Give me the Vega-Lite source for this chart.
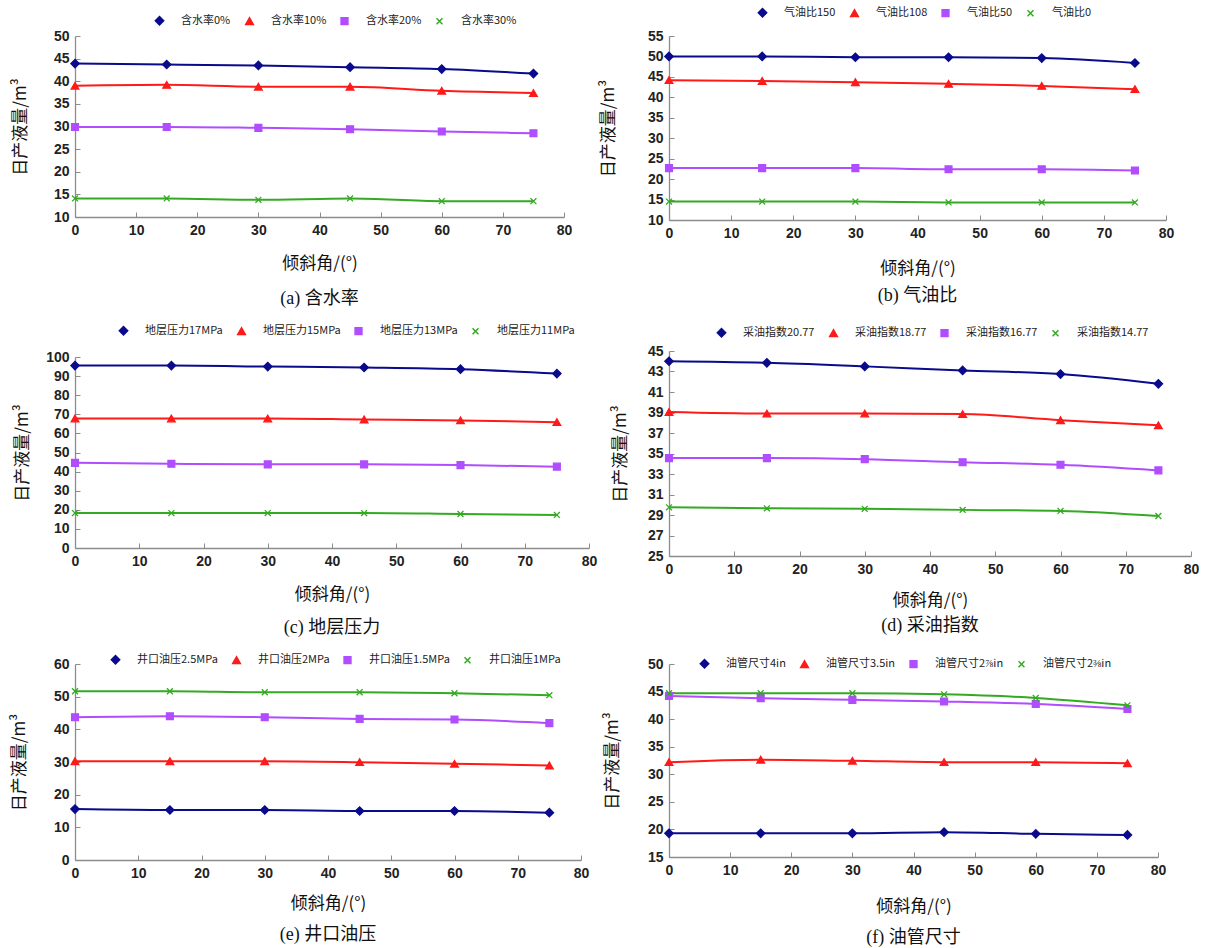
{
  "$schema": "https://vega.github.io/schema/vega-lite/v6.json",
  "background": "white",
  "padding": {"left": 10, "top": 7, "right": 0, "bottom": 0},
  "spacing": 2,
  "datasets": {
    "a": [
      {"s": "含水率0%", "x": 0, "y": 43.9}, {"s": "含水率0%", "x": 15, "y": 43.7}, {"s": "含水率0%", "x": 30, "y": 43.5}, {"s": "含水率0%", "x": 45, "y": 43.1}, {"s": "含水率0%", "x": 60, "y": 42.7}, {"s": "含水率0%", "x": 75, "y": 41.7},
      {"s": "含水率10%", "x": 0, "y": 39.0}, {"s": "含水率10%", "x": 15, "y": 39.2}, {"s": "含水率10%", "x": 30, "y": 38.8}, {"s": "含水率10%", "x": 45, "y": 38.8}, {"s": "含水率10%", "x": 60, "y": 37.9}, {"s": "含水率10%", "x": 75, "y": 37.4},
      {"s": "含水率20%", "x": 0, "y": 29.9}, {"s": "含水率20%", "x": 15, "y": 29.9}, {"s": "含水率20%", "x": 30, "y": 29.7}, {"s": "含水率20%", "x": 45, "y": 29.4}, {"s": "含水率20%", "x": 60, "y": 28.9}, {"s": "含水率20%", "x": 75, "y": 28.5},
      {"s": "含水率30%", "x": 0, "y": 14.1}, {"s": "含水率30%", "x": 15, "y": 14.1}, {"s": "含水率30%", "x": 30, "y": 13.8}, {"s": "含水率30%", "x": 45, "y": 14.1}, {"s": "含水率30%", "x": 60, "y": 13.5}, {"s": "含水率30%", "x": 75, "y": 13.5}
    ],
    "b": [
      {"s": "气油比150", "x": 0, "y": 50.0}, {"s": "气油比150", "x": 15, "y": 50.0}, {"s": "气油比150", "x": 30, "y": 49.8}, {"s": "气油比150", "x": 45, "y": 49.8}, {"s": "气油比150", "x": 60, "y": 49.6}, {"s": "气油比150", "x": 75, "y": 48.4},
      {"s": "气油比108", "x": 0, "y": 44.2}, {"s": "气油比108", "x": 15, "y": 44.0}, {"s": "气油比108", "x": 30, "y": 43.7}, {"s": "气油比108", "x": 45, "y": 43.3}, {"s": "气油比108", "x": 60, "y": 42.8}, {"s": "气油比108", "x": 75, "y": 42.0},
      {"s": "气油比50", "x": 0, "y": 22.7}, {"s": "气油比50", "x": 15, "y": 22.7}, {"s": "气油比50", "x": 30, "y": 22.7}, {"s": "气油比50", "x": 45, "y": 22.4}, {"s": "气油比50", "x": 60, "y": 22.4}, {"s": "气油比50", "x": 75, "y": 22.1},
      {"s": "气油比0", "x": 0, "y": 14.5}, {"s": "气油比0", "x": 15, "y": 14.5}, {"s": "气油比0", "x": 30, "y": 14.5}, {"s": "气油比0", "x": 45, "y": 14.3}, {"s": "气油比0", "x": 60, "y": 14.3}, {"s": "气油比0", "x": 75, "y": 14.3}
    ],
    "c": [
      {"s": "地层压力17MPa", "x": 0, "y": 95.5}, {"s": "地层压力17MPa", "x": 15, "y": 95.5}, {"s": "地层压力17MPa", "x": 30, "y": 95.0}, {"s": "地层压力17MPa", "x": 45, "y": 94.5}, {"s": "地层压力17MPa", "x": 60, "y": 93.6}, {"s": "地层压力17MPa", "x": 75, "y": 91.3},
      {"s": "地层压力15MPa", "x": 0, "y": 67.8}, {"s": "地层压力15MPa", "x": 15, "y": 67.8}, {"s": "地层压力15MPa", "x": 30, "y": 67.8}, {"s": "地层压力15MPa", "x": 45, "y": 67.3}, {"s": "地层压力15MPa", "x": 60, "y": 66.8}, {"s": "地层压力15MPa", "x": 75, "y": 65.9},
      {"s": "地层压力13MPa", "x": 0, "y": 44.6}, {"s": "地层压力13MPa", "x": 15, "y": 44.1}, {"s": "地层压力13MPa", "x": 30, "y": 43.8}, {"s": "地层压力13MPa", "x": 45, "y": 43.8}, {"s": "地层压力13MPa", "x": 60, "y": 43.4}, {"s": "地层压力13MPa", "x": 75, "y": 42.6},
      {"s": "地层压力11MPa", "x": 0, "y": 18.3}, {"s": "地层压力11MPa", "x": 15, "y": 18.3}, {"s": "地层压力11MPa", "x": 30, "y": 18.3}, {"s": "地层压力11MPa", "x": 45, "y": 18.3}, {"s": "地层压力11MPa", "x": 60, "y": 17.8}, {"s": "地层压力11MPa", "x": 75, "y": 17.3}
    ],
    "d": [
      {"s": "采油指数20.77", "x": 0, "y": 44.0}, {"s": "采油指数20.77", "x": 15, "y": 43.85}, {"s": "采油指数20.77", "x": 30, "y": 43.5}, {"s": "采油指数20.77", "x": 45, "y": 43.1}, {"s": "采油指数20.77", "x": 60, "y": 42.75}, {"s": "采油指数20.77", "x": 75, "y": 41.8},
      {"s": "采油指数18.77", "x": 0, "y": 39.05}, {"s": "采油指数18.77", "x": 15, "y": 38.9}, {"s": "采油指数18.77", "x": 30, "y": 38.9}, {"s": "采油指数18.77", "x": 45, "y": 38.85}, {"s": "采油指数18.77", "x": 60, "y": 38.25}, {"s": "采油指数18.77", "x": 75, "y": 37.75},
      {"s": "采油指数16.77", "x": 0, "y": 34.55}, {"s": "采油指数16.77", "x": 15, "y": 34.55}, {"s": "采油指数16.77", "x": 30, "y": 34.45}, {"s": "采油指数16.77", "x": 45, "y": 34.15}, {"s": "采油指数16.77", "x": 60, "y": 33.9}, {"s": "采油指数16.77", "x": 75, "y": 33.35},
      {"s": "采油指数14.77", "x": 0, "y": 29.75}, {"s": "采油指数14.77", "x": 15, "y": 29.65}, {"s": "采油指数14.77", "x": 30, "y": 29.6}, {"s": "采油指数14.77", "x": 45, "y": 29.5}, {"s": "采油指数14.77", "x": 60, "y": 29.4}, {"s": "采油指数14.77", "x": 75, "y": 28.9}
    ],
    "e": [
      {"s": "井口油压2.5MPa", "x": 0, "y": 15.6}, {"s": "井口油压2.5MPa", "x": 15, "y": 15.3}, {"s": "井口油压2.5MPa", "x": 30, "y": 15.3}, {"s": "井口油压2.5MPa", "x": 45, "y": 15.0}, {"s": "井口油压2.5MPa", "x": 60, "y": 15.0}, {"s": "井口油压2.5MPa", "x": 75, "y": 14.5},
      {"s": "井口油压2MPa", "x": 0, "y": 30.25}, {"s": "井口油压2MPa", "x": 15, "y": 30.25}, {"s": "井口油压2MPa", "x": 30, "y": 30.25}, {"s": "井口油压2MPa", "x": 45, "y": 29.95}, {"s": "井口油压2MPa", "x": 60, "y": 29.45}, {"s": "井口油压2MPa", "x": 75, "y": 28.95},
      {"s": "井口油压1.5MPa", "x": 0, "y": 43.7}, {"s": "井口油压1.5MPa", "x": 15, "y": 44.0}, {"s": "井口油压1.5MPa", "x": 30, "y": 43.7}, {"s": "井口油压1.5MPa", "x": 45, "y": 43.2}, {"s": "井口油压1.5MPa", "x": 60, "y": 43.0}, {"s": "井口油压1.5MPa", "x": 75, "y": 41.9},
      {"s": "井口油压1MPa", "x": 0, "y": 51.65}, {"s": "井口油压1MPa", "x": 15, "y": 51.65}, {"s": "井口油压1MPa", "x": 30, "y": 51.35}, {"s": "井口油压1MPa", "x": 45, "y": 51.35}, {"s": "井口油压1MPa", "x": 60, "y": 51.05}, {"s": "井口油压1MPa", "x": 75, "y": 50.45}
    ],
    "f": [
      {"s": "油管尺寸4in", "x": 0, "y": 19.3}, {"s": "油管尺寸4in", "x": 15, "y": 19.3}, {"s": "油管尺寸4in", "x": 30, "y": 19.3}, {"s": "油管尺寸4in", "x": 45, "y": 19.5}, {"s": "油管尺寸4in", "x": 60, "y": 19.2}, {"s": "油管尺寸4in", "x": 75, "y": 19.0},
      {"s": "油管尺寸3.5in", "x": 0, "y": 32.2}, {"s": "油管尺寸3.5in", "x": 15, "y": 32.65}, {"s": "油管尺寸3.5in", "x": 30, "y": 32.45}, {"s": "油管尺寸3.5in", "x": 45, "y": 32.2}, {"s": "油管尺寸3.5in", "x": 60, "y": 32.2}, {"s": "油管尺寸3.5in", "x": 75, "y": 32.0},
      {"s": "油管尺寸2⅞in", "x": 0, "y": 44.2}, {"s": "油管尺寸2⅞in", "x": 15, "y": 43.8}, {"s": "油管尺寸2⅞in", "x": 30, "y": 43.5}, {"s": "油管尺寸2⅞in", "x": 45, "y": 43.2}, {"s": "油管尺寸2⅞in", "x": 60, "y": 42.75}, {"s": "油管尺寸2⅞in", "x": 75, "y": 41.85},
      {"s": "油管尺寸2⅜in", "x": 0, "y": 44.7}, {"s": "油管尺寸2⅜in", "x": 15, "y": 44.7}, {"s": "油管尺寸2⅜in", "x": 30, "y": 44.7}, {"s": "油管尺寸2⅜in", "x": 45, "y": 44.5}, {"s": "油管尺寸2⅜in", "x": 60, "y": 43.85}, {"s": "油管尺寸2⅜in", "x": 75, "y": 42.5}
    ]
  },
  "hconcat": [
    {
      "spacing": 17,
      "resolve": {"scale": {"color": "independent", "stroke": "independent", "shape": "independent", "size": "independent", "x": "independent", "y": "independent"}, "legend": {"color": "independent"}},
      "vconcat": [
        {
          "width": 489, "height": 181,
          "data": {"name": "a"},
          "title": {"text": "(a) 含水率", "offset": 19},
          "encoding": {
            "x": {"field": "x", "type": "quantitative", "scale": {"domain": [0, 80]}, "axis": {"values": [0,10,20,30,40,50,60,70,80], "title": "倾斜角/(°)", "titleY": 38}},
            "y": {"field": "y", "type": "quantitative", "scale": {"domain": [10, 50], "zero": false, "nice": false}, "axis": {"values": [10,15,20,25,30,35,40,45,50], "title": "日产液量/m³", "titleX": -46}}
          },
          "layer": [
            {"mark": {"type": "line", "interpolate": "monotone", "strokeWidth": 2},
             "encoding": {"color": {"field": "s", "type": "nominal", "scale": {"domain": ["含水率0%","含水率10%","含水率20%","含水率30%"], "range": ["#0a0a8c","#ff1a1a","#b04dff","#33aa22"]}, "legend": {"legendX": 79, "legendY": -21}}}},
            {"mark": {"type": "point", "filled": true, "opacity": 1, "strokeWidth": 1.3},
             "encoding": {
               "color": {"field": "s", "type": "nominal"},
               "stroke": {"field": "s", "type": "nominal", "scale": {"domain": ["含水率0%","含水率10%","含水率20%","含水率30%"], "range": ["#0a0a8c","#ff1a1a","#b04dff","#33aa22"]}, "legend": null},
               "shape": {"field": "s", "type": "nominal", "scale": {"domain": ["含水率0%","含水率10%","含水率20%","含水率30%"], "range": ["diamond","triangle-up","square","M-1,-1L1,1M1,-1L-1,1"]}, "legend": null},
               "size": {"field": "s", "type": "nominal", "scale": {"domain": ["含水率0%","含水率10%","含水率20%","含水率30%"], "range": [70, 35, 85, 80]}, "legend": null}
             }}
          ]
        },
        {
          "width": 514, "height": 191,
          "data": {"name": "c"},
          "title": {"text": "(c) 地层压力", "offset": 17},
          "encoding": {
            "x": {"field": "x", "type": "quantitative", "scale": {"domain": [0, 80]}, "axis": {"values": [0,10,20,30,40,50,60,70,80], "title": "倾斜角/(°)", "titleY": 38}},
            "y": {"field": "y", "type": "quantitative", "scale": {"domain": [0, 100], "nice": false}, "axis": {"values": [0,10,20,30,40,50,60,70,80,90,100], "title": "日产液量/m³", "titleX": -44}}
          },
          "layer": [
            {"mark": {"type": "line", "interpolate": "monotone", "strokeWidth": 2},
             "encoding": {"color": {"field": "s", "type": "nominal", "scale": {"domain": ["地层压力17MPa","地层压力15MPa","地层压力13MPa","地层压力11MPa"], "range": ["#0a0a8c","#ff1a1a","#b04dff","#33aa22"]}, "legend": {"legendX": 43, "legendY": -32}}}},
            {"mark": {"type": "point", "filled": true, "opacity": 1, "strokeWidth": 1.3},
             "encoding": {
               "color": {"field": "s", "type": "nominal"},
               "stroke": {"field": "s", "type": "nominal", "scale": {"domain": ["地层压力17MPa","地层压力15MPa","地层压力13MPa","地层压力11MPa"], "range": ["#0a0a8c","#ff1a1a","#b04dff","#33aa22"]}, "legend": null},
               "shape": {"field": "s", "type": "nominal", "scale": {"domain": ["地层压力17MPa","地层压力15MPa","地层压力13MPa","地层压力11MPa"], "range": ["diamond","triangle-up","square","M-1,-1L1,1M1,-1L-1,1"]}, "legend": null},
               "size": {"field": "s", "type": "nominal", "scale": {"domain": ["地层压力17MPa","地层压力15MPa","地层压力13MPa","地层压力11MPa"], "range": [70, 35, 85, 80]}, "legend": null}
             }}
          ]
        },
        {
          "width": 506, "height": 196,
          "data": {"name": "e"},
          "title": {"text": "(e) 井口油压", "offset": 15},
          "encoding": {
            "x": {"field": "x", "type": "quantitative", "scale": {"domain": [0, 80]}, "axis": {"values": [0,10,20,30,40,50,60,70,80], "title": "倾斜角/(°)", "titleY": 35}},
            "y": {"field": "y", "type": "quantitative", "scale": {"domain": [0, 60], "nice": false}, "axis": {"values": [0,10,20,30,40,50,60], "title": "日产液量/m³", "titleX": -47}}
          },
          "layer": [
            {"mark": {"type": "line", "interpolate": "monotone", "strokeWidth": 2},
             "encoding": {"color": {"field": "s", "type": "nominal", "scale": {"domain": ["井口油压2.5MPa","井口油压2MPa","井口油压1.5MPa","井口油压1MPa"], "range": ["#0a0a8c","#ff1a1a","#b04dff","#33aa22"]}, "legend": {"legendX": 35, "legendY": -10}}}},
            {"mark": {"type": "point", "filled": true, "opacity": 1, "strokeWidth": 1.3},
             "encoding": {
               "color": {"field": "s", "type": "nominal"},
               "stroke": {"field": "s", "type": "nominal", "scale": {"domain": ["井口油压2.5MPa","井口油压2MPa","井口油压1.5MPa","井口油压1MPa"], "range": ["#0a0a8c","#ff1a1a","#b04dff","#33aa22"]}, "legend": null},
               "shape": {"field": "s", "type": "nominal", "scale": {"domain": ["井口油压2.5MPa","井口油压2MPa","井口油压1.5MPa","井口油压1MPa"], "range": ["diamond","triangle-up","square","M-1,-1L1,1M1,-1L-1,1"]}, "legend": null},
               "size": {"field": "s", "type": "nominal", "scale": {"domain": ["井口油压2.5MPa","井口油压2MPa","井口油压1.5MPa","井口油压1MPa"], "range": [70, 35, 85, 80]}, "legend": null}
             }}
          ]
        }
      ]
    },
    {
      "spacing": 22,
      "resolve": {"scale": {"color": "independent", "stroke": "independent", "shape": "independent", "size": "independent", "x": "independent", "y": "independent"}, "legend": {"color": "independent"}},
      "vconcat": [
        {
          "width": 497, "height": 184,
          "data": {"name": "b"},
          "title": {"text": "(b) 气油比", "offset": 11},
          "encoding": {
            "x": {"field": "x", "type": "quantitative", "scale": {"domain": [0, 80]}, "axis": {"values": [0,10,20,30,40,50,60,70,80], "title": "倾斜角/(°)", "titleY": 40}},
            "y": {"field": "y", "type": "quantitative", "scale": {"domain": [10, 55], "zero": false, "nice": false}, "axis": {"values": [10,15,20,25,30,35,40,45,50,55], "title": "日产液量/m³", "titleX": -52}}
          },
          "layer": [
            {"mark": {"type": "line", "interpolate": "monotone", "strokeWidth": 2},
             "encoding": {"color": {"field": "s", "type": "nominal", "scale": {"domain": ["气油比150","气油比108","气油比50","气油比0"], "range": ["#0a0a8c","#ff1a1a","#b04dff","#33aa22"]}, "legend": {"legendX": 88, "legendY": -29}}}},
            {"mark": {"type": "point", "filled": true, "opacity": 1, "strokeWidth": 1.3},
             "encoding": {
               "color": {"field": "s", "type": "nominal"},
               "stroke": {"field": "s", "type": "nominal", "scale": {"domain": ["气油比150","气油比108","气油比50","气油比0"], "range": ["#0a0a8c","#ff1a1a","#b04dff","#33aa22"]}, "legend": null},
               "shape": {"field": "s", "type": "nominal", "scale": {"domain": ["气油比150","气油比108","气油比50","气油比0"], "range": ["diamond","triangle-up","square","M-1,-1L1,1M1,-1L-1,1"]}, "legend": null},
               "size": {"field": "s", "type": "nominal", "scale": {"domain": ["气油比150","气油比108","气油比50","气油比0"], "range": [70, 35, 85, 80]}, "legend": null}
             }}
          ]
        },
        {
          "width": 522, "height": 205,
          "data": {"name": "d"},
          "title": {"text": "(d) 采油指数", "offset": 9},
          "encoding": {
            "x": {"field": "x", "type": "quantitative", "scale": {"domain": [0, 80]}, "axis": {"values": [0,10,20,30,40,50,60,70,80], "title": "倾斜角/(°)", "titleY": 36}},
            "y": {"field": "y", "type": "quantitative", "scale": {"domain": [25, 45], "zero": false, "nice": false}, "axis": {"values": [25,27,29,31,33,35,37,39,41,43,45], "title": "日产液量/m³", "titleX": -40}}
          },
          "layer": [
            {"mark": {"type": "line", "interpolate": "monotone", "strokeWidth": 2},
             "encoding": {"color": {"field": "s", "type": "nominal", "scale": {"domain": ["采油指数20.77","采油指数18.77","采油指数16.77","采油指数14.77"], "range": ["#0a0a8c","#ff1a1a","#b04dff","#33aa22"]}, "legend": {"legendX": 47, "legendY": -24}}}},
            {"mark": {"type": "point", "filled": true, "opacity": 1, "strokeWidth": 1.3},
             "encoding": {
               "color": {"field": "s", "type": "nominal"},
               "stroke": {"field": "s", "type": "nominal", "scale": {"domain": ["采油指数20.77","采油指数18.77","采油指数16.77","采油指数14.77"], "range": ["#0a0a8c","#ff1a1a","#b04dff","#33aa22"]}, "legend": null},
               "shape": {"field": "s", "type": "nominal", "scale": {"domain": ["采油指数20.77","采油指数18.77","采油指数16.77","采油指数14.77"], "range": ["diamond","triangle-up","square","M-1,-1L1,1M1,-1L-1,1"]}, "legend": null},
               "size": {"field": "s", "type": "nominal", "scale": {"domain": ["采油指数20.77","采油指数18.77","采油指数16.77","采油指数14.77"], "range": [70, 35, 85, 80]}, "legend": null}
             }}
          ]
        },
        {
          "width": 489, "height": 193,
          "data": {"name": "f"},
          "title": {"text": "(f) 油管尺寸", "offset": 15},
          "encoding": {
            "x": {"field": "x", "type": "quantitative", "scale": {"domain": [0, 80]}, "axis": {"values": [0,10,20,30,40,50,60,70,80], "title": "倾斜角/(°)", "titleY": 41}},
            "y": {"field": "y", "type": "quantitative", "scale": {"domain": [15, 50], "zero": false, "nice": false}, "axis": {"values": [15,20,25,30,35,40,45,50], "title": "日产液量/m³", "titleX": -48}}
          },
          "layer": [
            {"mark": {"type": "line", "interpolate": "monotone", "strokeWidth": 2},
             "encoding": {"color": {"field": "s", "type": "nominal", "scale": {"domain": ["油管尺寸4in","油管尺寸3.5in","油管尺寸2⅞in","油管尺寸2⅜in"], "range": ["#0a0a8c","#ff1a1a","#b04dff","#33aa22"]}, "legend": {"legendX": 30, "legendY": -6}}}},
            {"mark": {"type": "point", "filled": true, "opacity": 1, "strokeWidth": 1.3},
             "encoding": {
               "color": {"field": "s", "type": "nominal"},
               "stroke": {"field": "s", "type": "nominal", "scale": {"domain": ["油管尺寸4in","油管尺寸3.5in","油管尺寸2⅞in","油管尺寸2⅜in"], "range": ["#0a0a8c","#ff1a1a","#b04dff","#33aa22"]}, "legend": null},
               "shape": {"field": "s", "type": "nominal", "scale": {"domain": ["油管尺寸4in","油管尺寸3.5in","油管尺寸2⅞in","油管尺寸2⅜in"], "range": ["diamond","triangle-up","square","M-1,-1L1,1M1,-1L-1,1"]}, "legend": null},
               "size": {"field": "s", "type": "nominal", "scale": {"domain": ["油管尺寸4in","油管尺寸3.5in","油管尺寸2⅞in","油管尺寸2⅜in"], "range": [70, 35, 85, 80]}, "legend": null}
             }}
          ]
        }
      ]
    }
  ],
  "resolve": {"scale": {"color": "independent", "stroke": "independent", "shape": "independent", "size": "independent", "x": "independent", "y": "independent"}, "legend": {"color": "independent"}},
  "config": {
    "view": {"stroke": null},
    "axis": {
      "grid": false, "domainColor": "#8c8c8c", "domainWidth": 1.3, "tickColor": "#8c8c8c", "tickSize": -5, "tickWidth": 1,
      "labelFont": "Liberation Sans", "labelFontSize": 14, "labelFontWeight": "bold", "labelColor": "#222222", "labelPadding": 11,
      "titleFont": "Noto Sans CJK SC", "titleFontSize": 17, "titleFontWeight": "normal", "titleColor": "#111111"
    },
    "axisY": {"titleBaseline": "bottom"},
    "axisX": {"titleBaseline": "top", "labelFlush": false},
    "legend": {
      "orient": "none", "direction": "horizontal", "title": null,
      "labelFont": "Noto Sans CJK SC", "labelFontSize": 11, "labelColor": "#222222",
      "symbolSize": 64, "symbolStrokeWidth": 1.5, "labelOffset": 16, "columnPadding": 11, "padding": 0
    },
    "title": {"orient": "bottom", "frame": "group", "anchor": "middle", "fontSize": 18, "font": "Liberation Serif, Noto Sans CJK SC", "fontWeight": "normal", "color": "#111111"}
  }
}
